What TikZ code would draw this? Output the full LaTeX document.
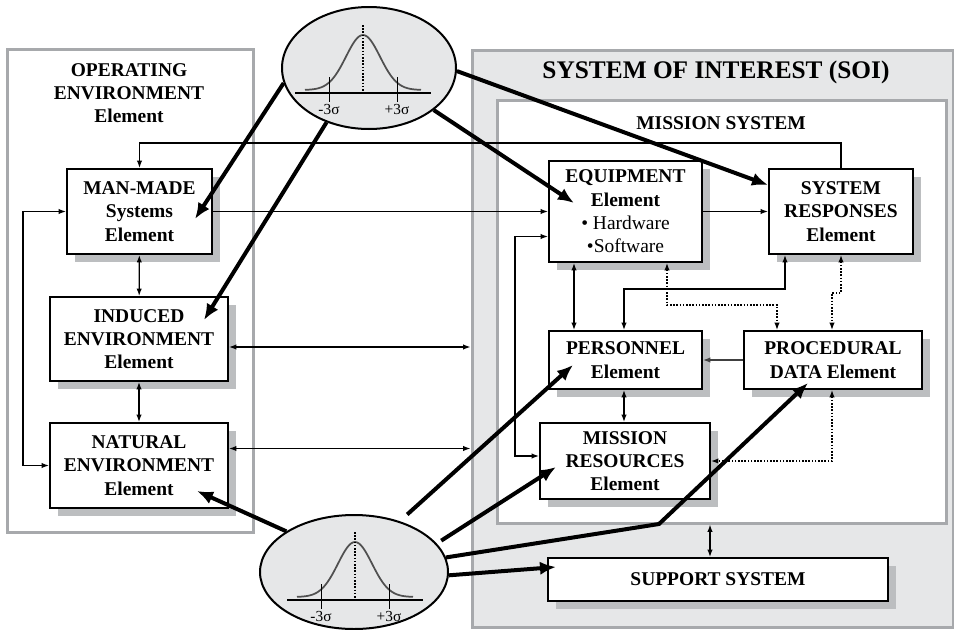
\documentclass[tikz,border=0pt]{standalone}
\usepackage{fontspec}
\setmainfont{Liberation Serif}
\usetikzlibrary{shapes.geometric,shadows,calc,arrows.meta}

\definecolor{panelgray}{RGB}{167,169,172}
\definecolor{soifill}{RGB}{230,231,232}
\definecolor{shadowgray}{RGB}{188,190,192}
\definecolor{curvegray}{RGB}{80,80,80}

\tikzset{
  elem/.style={draw, line width=1.5pt, fill=white, align=center, inner sep=0pt,
    font=\fontsize{14.6}{17.5}\selectfont\bfseries,
    drop shadow={shadow xshift=6pt, shadow yshift=-6pt, fill=shadowgray, opacity=1}},
  panel/.style={draw=panelgray, line width=2.25pt, inner sep=0pt},
  link/.style={line width=1pt, >={Latex[length=5.5pt,width=4pt]}},
  dotlink/.style={link, dash pattern=on 1.1pt off 1.3pt},
  feed/.style={line width=3pt, -{Latex[length=12pt,width=10pt]}},
  dist/.style={ellipse, draw, line width=1.5pt, fill=soifill, inner sep=0pt},
  siglab/.style={font=\fontsize{11.5}{13}\selectfont, inner sep=0pt},
}

\begin{document}
\begin{tikzpicture}[x=0.75pt,y=0.75pt,yscale=-1,xscale=1]
  \useasboundingbox (0,0) rectangle (954,629);

  %Panels
  \node[panel, fill=white, minimum width=184.5pt, minimum height=362.25pt] (openv) at (130,290.5) {};
  \node[panel, fill=soifill, minimum width=360.75pt, minimum height=432.75pt] (soi) at (712.5,338.5) {};
  \node[panel, fill=white, minimum width=336.75pt, minimum height=317.25pt] (mission) at (721.5,311.5) {};

  % Text Node
  \node[align=center, font=\fontsize{14.6}{17.5}\selectfont\bfseries] (openvtitle) at (129,93) {OPERATING\\ENVIRONMENT\\Element};
  \node[font=\fontsize{19}{23}\selectfont\bfseries] (soititle) at (716,72) {SYSTEM OF INTEREST (SOI)};
  \node[font=\fontsize{14.6}{17.5}\selectfont\bfseries] (missiontitle) at (721,123) {MISSION SYSTEM};

  %Element boxes
  \node[elem, minimum width=108.75pt, minimum height=63.75pt] (manmade) at (139.5,211.5) {MAN-MADE\\Systems\\Element};
  \node[elem, minimum width=133.5pt, minimum height=63pt] (induced) at (139,339) {INDUCED\\ENVIRONMENT\\Element};
  \node[elem, minimum width=133.5pt, minimum height=63.75pt] (natural) at (139,465.5) {NATURAL\\ENVIRONMENT\\Element};
  \node[elem, minimum width=114.75pt, minimum height=75.75pt] (equipment) at (625.5,211.5) {EQUIPMENT\\Element\\{\mdseries • Hardware}\\{\mdseries •Software}};
  \node[elem, minimum width=108pt, minimum height=63.75pt] (sysresp) at (841,211.5) {SYSTEM\\RESPONSES\\Element};
  \node[elem, minimum width=114.75pt, minimum height=43.5pt] (personnel) at (625.5,360) {PERSONNEL\\Element};
  \node[elem, minimum width=133.5pt, minimum height=43.5pt] (procedural) at (833,360) {PROCEDURAL\\DATA Element};
  \node[elem, minimum width=127.5pt, minimum height=57pt] (resources) at (625,461) {MISSION\\RESOURCES\\Element};
  \node[elem, minimum width=255pt, minimum height=32.25pt] (support) at (718,579.5) {SUPPORT SYSTEM};

  %Operating environment links
  \draw[link,<->] (manmade) -- (induced);
  \draw[link,<->] (induced) -- (natural);
  \draw[link,<->] (manmade.west) -- ++(-43,0) |- (natural.west);
  \draw[link,->] (sysresp.north) -- ++(0,-25) -| (manmade.north);
  \draw[link,->] (manmade) -- (equipment);
  \path ($(induced.east)+(0,8)$) coordinate (indR) ($(natural.east)+(0,-17)$) coordinate (natR);
  \draw[link,<->] (indR) -- (indR -| soi.west);
  \draw[link,<->] (natR) -- (natR -| soi.west);

  %Mission system links
  \draw[link,->] (equipment) -- (sysresp);
  \draw[link,<->] ($(equipment.south west)+(26,0)$) -- ($(personnel.north west)+(26,0)$);
  \draw[link,<->] ($(sysresp.south west)+(17,0)$) -- ++(0,34) -| ($(personnel.north west)+(76,0)$);
  \draw[dotlink,<->] ($(equipment.south west)+(119,0)$) -- ++(0,42) -| ($(procedural.north west)+(34,0)$);
  \draw[dotlink,<->] ($(sysresp.south west)+(73,0)$) -- ++(0,38) -| ($(procedural.north west)+(89,0)$);
  \draw[link,->,black!75] (procedural) -- (personnel);
  \draw[link,<->] ($(personnel.south west)+(76,0)$) -- ($(resources.north west)+(85,0)$);
  \draw[dotlink,<->] ($(procedural.south west)+(89,0)$) |- (resources.east);
  \draw[link,<->] ($(equipment.west)+(0,25)$) -- ++(-33,0) |- ($(resources.west)+(0,-5)$);
  \coordinate (supN) at ($(support.north)+(-8,0)$);
  \draw[link,<->] (supN) -- (supN |- mission.south);

  %Shape: Ellipse
  \node[dist, minimum width=130.5pt, minimum height=91.5pt] (topdist) at (369,68) {};
  \node[dist, minimum width=141pt, minimum height=85.5pt] (botdist) at (354,572) {};

  %Bell curves
  \foreach \cx/\cy/\n in {363/93/t, 355/600/b}{
    \begin{scope}[shift={(\cx,\cy)}]
      \draw[curvegray, line width=1.3pt, domain=-58:58, samples=61, smooth] plot ({\x},{-3-55*exp(-(\x*\x)/578)});
      \draw[line width=1.2pt] (-68,0) -- (68,0);
      \draw[line width=1.2pt, dash pattern=on 1.2pt off 1.2pt] (0,-68) -- (0,0);
      \draw[line width=0.6pt] (-34,-16) -- (-34,9) (34,-16) -- (34,9);
      \node[siglab] (\n lo) at (-34,16) {-3σ};
      \node[siglab] (\n hi) at (34,16) {+3σ};
    \end{scope}
  }

  %Variation arrows
  \coordinate (mmtip) at (195,219);
  \coordinate (indtip) at (204,320);
  \coordinate (eqtip) at (574,203);
  \coordinate (srtip) at (768,185);
  \coordinate (nattip) at (197,491);
  \coordinate (perstip) at (573,365);
  \coordinate (restip) at (556,467);
  \coordinate (bend) at (659,524);
  \coordinate (proctip) at (808,383);
  \coordinate (suptip) at (556,567);
  \draw[feed] (topdist.190) -- (mmtip);
  \draw[feed] (topdist.232) -- (indtip);
  \draw[feed] (topdist.327) -- (eqtip);
  \draw[feed] (topdist.358) -- (srtip);
  \draw[feed] (botdist.149) -- (nattip);
  \draw[feed, shorten <=7.5pt] (botdist.48) -- (perstip);
  \draw[feed, shorten <=4pt] (botdist.19) -- (restip);
  \draw[feed] (botdist.9) -- (bend) -- (proctip);
  \draw[feed] (botdist.358) -- (suptip);

\end{tikzpicture}
\end{document}
